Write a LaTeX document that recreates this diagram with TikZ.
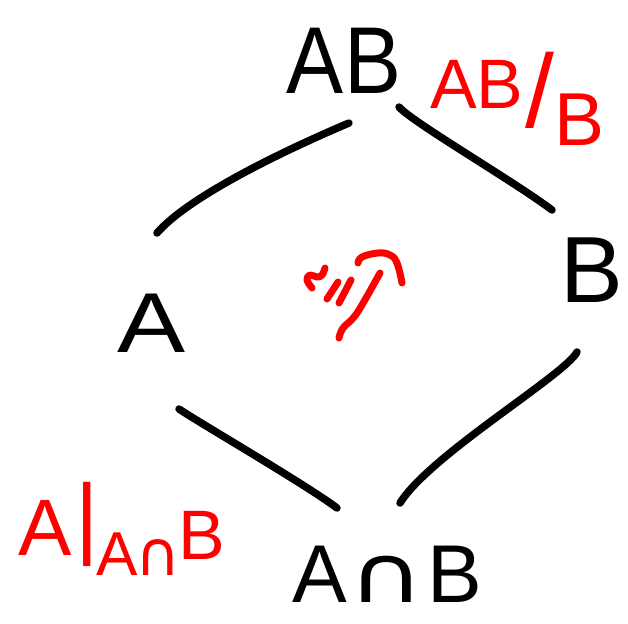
\documentclass[tikz,border=0pt]{standalone}
\usepackage{fontspec}
\setmainfont{Liberation Sans}
\newfontfamily\symfont{DejaVu Sans}
\begin{document}
\begin{tikzpicture}[x=1pt,y=-1pt,
  edge/.style={line width=7.5pt,line cap=round,line join=round,black},
  redstroke/.style={line width=7pt,line cap=round,line join=round,red},
  lbl/.style={inner sep=0pt,black},
  redlbl/.style={inner sep=0pt,red}]
\useasboundingbox (0,0) rectangle (628,623);
% black labels
\node[lbl,anchor=base] (AB) at (344,93) {\fontsize{95}{95}\selectfont\scalebox{0.9}[1]{AB}};
\node[lbl,anchor=base] (A) at (152,352) {\fontsize{85}{85}\selectfont\scalebox{1.2}[1]{A}};
\node[lbl,anchor=base] (B) at (592,302) {\fontsize{94}{94}\selectfont B};
\node[lbl,anchor=base] (AnB) at (387,602) {\fontsize{82}{82}\selectfont A\kern2pt\raisebox{0pt}{\fontsize{80}{80}\selectfont\symfont\scalebox{1.3}[1]{∩}}\kern2pt B};
% red labels
\node[redlbl,anchor=base west] (q1) at (430,108) {\fontsize{70}{70}\selectfont AB\kern2pt\raisebox{-20pt}{\fontsize{104}{104}\selectfont /}\raisebox{-37pt}{\fontsize{75}{75}\selectfont B}};
\node[redlbl,anchor=base west] (q2) at (18,555) {\fontsize{80}{80}\selectfont A\kern4pt\raisebox{8pt}{\fontsize{90}{90}\selectfont |}\kern-2pt\raisebox{-20pt}{\fontsize{62}{62}\selectfont A\kern-3pt{\symfont ∩}}\kern-2pt\raisebox{-4pt}{\fontsize{70}{70}\selectfont B}};
% connector end points
\coordinate (e1s) at (349,123); \coordinate (e1t) at (157,233);
\coordinate (e2s) at (399,107); \coordinate (e2t) at (552,210);
\coordinate (e3s) at (179,409); \coordinate (e3t) at (337,508);
\coordinate (e4s) at (577,352); \coordinate (e4t) at (400,503);
\draw[edge] (e1s) .. controls (290,148) and (190,195) .. (e1t);
\draw[edge] (e2s) .. controls (412,122) and (515,182) .. (e2t);
\draw[edge] (e3s) .. controls (198,422) and (305,484) .. (e3t);
\draw[edge] (e4s) .. controls (565,375) and (430,455) .. (e4t);
% red isomorphism mark
\draw[redstroke] plot[smooth,tension=0.7] coordinates {(312,288) (307,280) (310,275) (317,277) (322,275) (325,268)};
\draw[redstroke] (327,299) -- (338,282);
\draw[redstroke] (339,303) -- (351,280);
\draw[redstroke] plot[smooth,tension=0.6] coordinates {(339,338) (343,328) (357,313) (380,273)};
\draw[redstroke] plot[smooth,tension=0.7] coordinates {(358,263) (362,257) (378,253) (390,255) (397,263) (402,283)};
\end{tikzpicture}
\end{document}
